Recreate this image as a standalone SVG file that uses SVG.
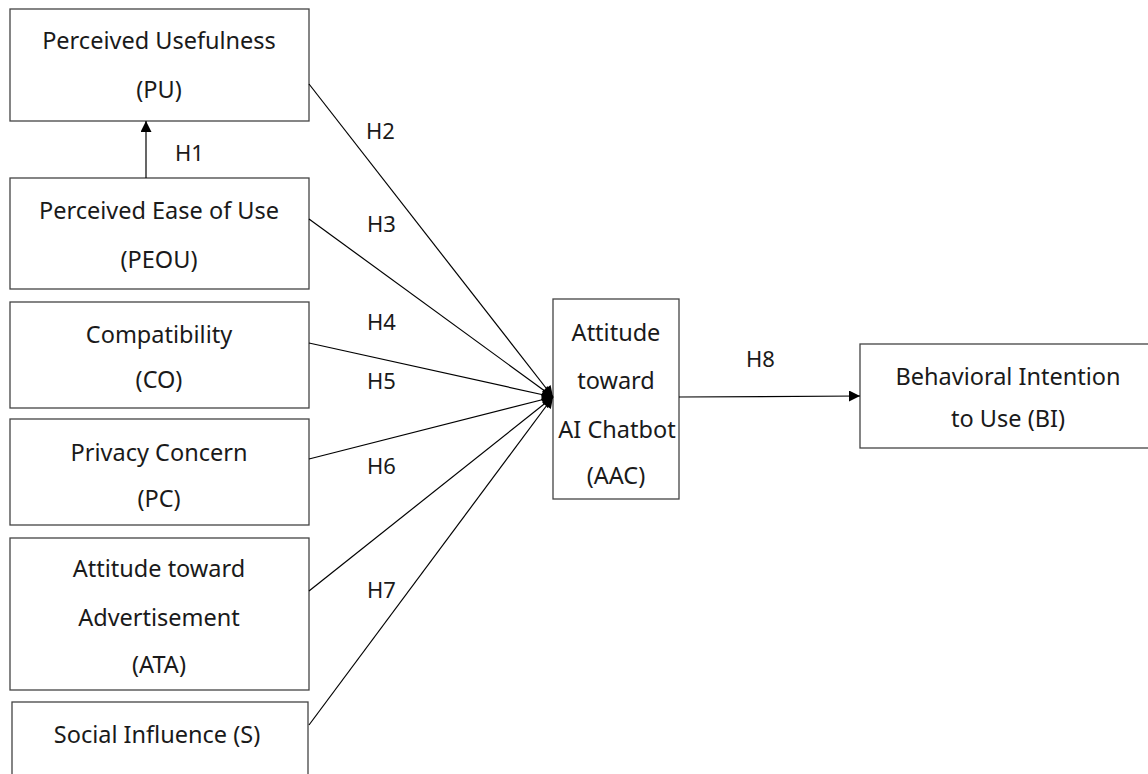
<svg xmlns="http://www.w3.org/2000/svg" width="1148" height="774" viewBox="0 0 1148 774">
<defs>
<style>
.box{fill:#fff;stroke:#444;stroke-width:1.3}
.t{font-family:"Noto Sans","DejaVu Sans",sans-serif;font-size:23.5px;fill:#1a1a1a;text-anchor:middle}
.h{font-family:"Noto Sans","DejaVu Sans",sans-serif;font-size:22px;fill:#1a1a1a}
.c{stroke:#000;stroke-width:1.2;fill:none;marker-end:url(#ah)}
</style>
<marker id="ah" viewBox="0 0 10 10" refX="10" refY="5" markerWidth="14" markerHeight="11" markerUnits="userSpaceOnUse" orient="auto"><path d="M0,0 L10,5 L0,10 z" fill="#000"/></marker>
</defs>
<rect width="1148" height="774" fill="#fff"/>
<g id="PU"><rect class="box" x="10" y="9" width="299" height="112"/><text class="t" x="159" y="49">Perceived Usefulness</text><text class="t" x="159" y="98">(PU)</text></g>
<g id="PEOU"><rect class="box" x="10" y="178" width="299" height="111"/><text class="t" x="159" y="219">Perceived Ease of Use</text><text class="t" x="159" y="268">(PEOU)</text></g>
<g id="CO"><rect class="box" x="10" y="302" width="299" height="106"/><text class="t" x="159" y="343">Compatibility</text><text class="t" x="159" y="388">(CO)</text></g>
<g id="PC"><rect class="box" x="10" y="419" width="299" height="106"/><text class="t" x="159" y="461">Privacy Concern</text><text class="t" x="159" y="507">(PC)</text></g>
<g id="ATA"><rect class="box" x="10" y="538" width="299" height="152"/><text class="t" x="159" y="577">Attitude toward</text><text class="t" x="159" y="626">Advertisement</text><text class="t" x="159" y="673">(ATA)</text></g>
<g id="S"><rect class="box" x="12" y="702" width="296" height="90"/><text class="t" x="157" y="743">Social Influence (S)</text></g>
<g id="AAC"><rect class="box" x="553" y="299" width="126" height="200"/><text class="t" x="616" y="341">Attitude</text><text class="t" x="616" y="389">toward</text><text class="t" x="617" y="438">AI Chatbot</text><text class="t" x="616" y="484">(AAC)</text></g>
<g id="BI"><rect class="box" x="860" y="344" width="290" height="104"/><text class="t" x="1008" y="385">Behavioral Intention</text><text class="t" x="1008" y="427">to Use (BI)</text></g>
<g id="connectors">
<line class="c" x1="146" y1="178" x2="146" y2="121"/>
<line class="c" x1="309" y1="84" x2="553" y2="397"/>
<line class="c" x1="309" y1="219" x2="553" y2="397"/>
<line class="c" x1="309" y1="343" x2="553" y2="397"/>
<line class="c" x1="309" y1="459" x2="553" y2="397"/>
<line class="c" x1="309" y1="591" x2="553" y2="397"/>
<line class="c" x1="309" y1="725" x2="553" y2="397"/>
<line class="c" x1="679" y1="397" x2="860" y2="396"/>
<text class="h" x="175" y="161">H1</text>
<text class="h" x="366" y="139">H2</text>
<text class="h" x="367" y="232">H3</text>
<text class="h" x="367" y="330">H4</text>
<text class="h" x="367" y="389">H5</text>
<text class="h" x="367" y="474">H6</text>
<text class="h" x="367" y="598">H7</text>
<text class="h" x="746" y="367">H8</text>
</g>
</svg>
